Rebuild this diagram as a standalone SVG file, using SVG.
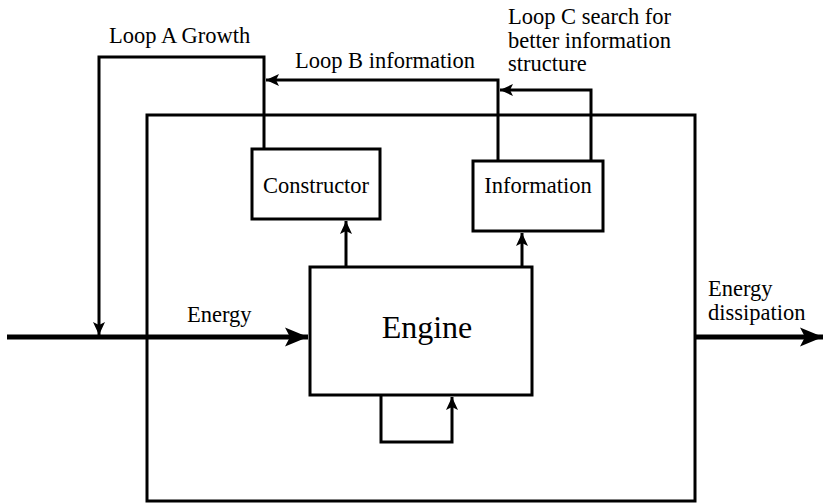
<svg xmlns="http://www.w3.org/2000/svg" width="826" height="503" viewBox="0 0 826 503">
<style>
.box{fill:#fff;stroke:#000;stroke-width:3}
.ln{fill:none;stroke:#000;stroke-width:3}
.thick{fill:none;stroke:#000;stroke-width:5}
text{font-family:"Liberation Serif","Times New Roman",serif;font-size:22.5px;fill:#000}
</style>
<defs>
<marker id="ah" markerUnits="userSpaceOnUse" markerWidth="14" markerHeight="14" viewBox="0 0 14 14" refX="13" refY="7" orient="auto">
<path d="M0,1 L13,7 L0,13 L3,7 Z" fill="#000"/>
</marker>
<marker id="ahb" markerUnits="userSpaceOnUse" markerWidth="24" markerHeight="20" viewBox="0 0 24 20" refX="23" refY="10" orient="auto">
<path d="M0,0.5 L23,10 L0,19.5 L5,10 Z" fill="#000"/>
</marker>
</defs>
<g id="system">
<rect class="box" x="147" y="115" width="548" height="386" fill="none" style="fill:none"/>
</g>
<g id="connectors">
<path class="thick" d="M7,337 L308,337" marker-end="url(#ahb)"/>
<path class="thick" d="M695,337 L823,337" marker-end="url(#ahb)"/>
<path class="ln" d="M264,149 L264,57 L99,57 L99,335" marker-end="url(#ah)"/>
<path class="ln" d="M498,161 L498,80 L266,80" marker-end="url(#ah)"/>
<path class="ln" d="M591,161 L591,90 L500,90" marker-end="url(#ah)"/>
<path class="ln" d="M346,267 L346,221" marker-end="url(#ah)"/>
<path class="ln" d="M522,267 L522,233" marker-end="url(#ah)"/>
<path class="ln" d="M381,395 L381,442 L452,442 L452,397" marker-end="url(#ah)"/>
</g>
<g id="constructor">
<rect class="box" x="252" y="149" width="128" height="70"/>
<text x="316" y="193" text-anchor="middle">Constructor</text>
</g>
<g id="information">
<rect class="box" x="473" y="161" width="130" height="70"/>
<text x="538" y="193" text-anchor="middle">Information</text>
</g>
<g id="engine">
<rect class="box" x="310" y="267" width="222" height="128"/>
<text x="427" y="338" text-anchor="middle" style="font-size:32px">Engine</text>
</g>
<g id="labels">
<text x="109" y="43">Loop A Growth</text>
<text x="295" y="68">Loop B information</text>
<text x="508" y="24">Loop C search for</text>
<text x="508" y="48">better information</text>
<text x="508" y="71">structure</text>
<text x="187" y="322">Energy</text>
<text x="708" y="296">Energy</text>
<text x="708" y="320">dissipation</text>
</g>
</svg>
